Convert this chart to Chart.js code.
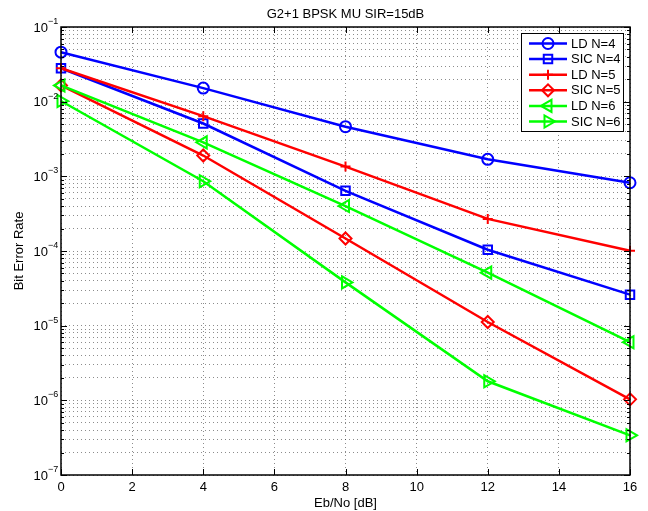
<!DOCTYPE html>
<html>
<head>
<meta charset="utf-8">
<script src="https://cdn.jsdelivr.net/npm/chart.js@4.4.1/dist/chart.umd.min.js"></script>
<style>
  html, body { margin: 0; padding: 0; background: #fff; }
</style>
</head>
<body>
<canvas id="ber-chart" width="648" height="511"></canvas>
<script>
const ebNo = [0, 4, 8, 12, 16];

const ldN4 = [4.6e-2, 1.52e-2, 4.62e-3, 1.69e-3, 8.2e-4];
const sicN4 = [2.8e-2, 5.1e-3, 6.4e-4, 1.04e-4, 2.6e-5];
const ldN5 = [2.8e-2, 6.4e-3, 1.35e-3, 2.69e-4, 1.01e-4];
const sicN5 = [1.65e-2, 1.9e-3, 1.47e-4, 1.12e-5, 1.03e-6];
const ldN6 = [1.65e-2, 2.85e-3, 4.0e-4, 5.13e-5, 6.0e-6];
const sicN6 = [1.02e-2, 8.6e-4, 3.8e-5, 1.8e-6, 3.4e-7];

const seriesNames = ['LD N=4', 'SIC N=4', 'LD N=5', 'SIC N=5', 'LD N=6', 'SIC N=6'];
const xTickValues = [0, 2, 4, 6, 8, 10, 12, 14, 16];
const yExponents = [-7, -6, -5, -4, -3, -2, -1];
const yMantissas = [1, 2, 3, 4, 5, 6, 7, 8, 9];

const FONT = 'Liberation Sans, Arial, Helvetica, sans-serif';
const BLUE = '#0000ff';
const RED = '#ff0000';
const GREEN = '#00ff00';
const GRID = 'rgba(0, 0, 0, 0.45)';

const styles = [
  { color: BLUE, pointStyle: 'circle', radius: 5.5, rotation: 0 },
  { color: BLUE, pointStyle: 'rect', radius: 6, rotation: 0 },
  { color: RED, pointStyle: 'cross', radius: 5, rotation: 0 },
  { color: RED, pointStyle: 'rectRot', radius: 6, rotation: 0 },
  { color: GREEN, pointStyle: 'triangle', radius: 7, rotation: 270 },
  { color: GREEN, pointStyle: 'triangle', radius: 7, rotation: 90 },
];

const allSeries = [ldN4, sicN4, ldN5, sicN5, ldN6, sicN6];

const datasets = allSeries.map((values, i) => ({
  label: seriesNames[i],
  data: values.map((v, j) => ({ x: ebNo[j], y: v })),
  borderColor: styles[i].color,
  borderWidth: 2.5,
  backgroundColor: 'transparent',
  pointStyle: styles[i].pointStyle,
  pointRadius: styles[i].radius,
  pointRotation: styles[i].rotation,
  pointBorderColor: styles[i].color,
  pointBackgroundColor: 'transparent',
  pointBorderWidth: 2,
  tension: 0,
  clip: false,
  order: allSeries.length - 1 - i,
}));

// log ticks: 1..9 x 10^n, majors at the decades
const logTicks = [];
yExponents.forEach((e) => {
  yMantissas.forEach((m) => {
    if (e === -1 && m > 1) return;
    logTicks.push({ value: m * Math.pow(10, e), major: m === 1 });
  });
});

// frame, inward ticks, y labels with exponents, title, legend
const matlabAxes = {
  id: 'matlabAxes',
  afterDraw(chart) {
    const { ctx, chartArea: a } = chart;
    const xs = chart.scales.x;
    const ys = chart.scales.y;
    ctx.save();

    ctx.strokeStyle = '#000';
    ctx.lineWidth = 1.5;
    ctx.strokeRect(a.left, a.top, a.right - a.left, a.bottom - a.top);

    ctx.lineWidth = 1;
    ctx.beginPath();
    xTickValues.forEach((v) => {
      const px = Math.round(xs.getPixelForValue(v)) + 0.5;
      ctx.moveTo(px, a.bottom); ctx.lineTo(px, a.bottom - 6);
      ctx.moveTo(px, a.top); ctx.lineTo(px, a.top + 6);
    });
    logTicks.forEach((t) => {
      const py = Math.round(ys.getPixelForValue(t.value)) + 0.5;
      const len = t.major ? 6 : 3;
      ctx.moveTo(a.left, py); ctx.lineTo(a.left + len, py);
      ctx.moveTo(a.right, py); ctx.lineTo(a.right - len, py);
    });
    ctx.stroke();

    // y tick labels 10^n
    ctx.fillStyle = '#000';
    yExponents.forEach((e) => {
      const py = ys.getPixelForValue(Math.pow(10, e));
      ctx.font = '13px ' + FONT;
      ctx.textAlign = 'right';
      ctx.textBaseline = 'middle';
      ctx.fillText('10', 48, py + 1);
      ctx.font = '9px ' + FONT;
      ctx.textAlign = 'left';
      ctx.textBaseline = 'alphabetic';
      ctx.fillText('\u2212' + Math.abs(e), 48, py - 3);
    });

    // title
    ctx.font = '13px ' + FONT;
    ctx.textAlign = 'center';
    ctx.textBaseline = 'middle';
    ctx.fillText('G2+1 BPSK MU SIR=15dB', (a.left + a.right) / 2, 14);

    // legend
    const lx = 521, ly = 33, lw = 102, lh = 98;
    ctx.fillStyle = '#fff';
    ctx.fillRect(lx, ly, lw, lh);
    ctx.strokeStyle = '#000';
    ctx.lineWidth = 1;
    ctx.strokeRect(lx + 0.5, ly + 0.5, lw, lh);
    chart.data.datasets.forEach((ds, i) => {
      const cy = ly + 10.5 + i * 15.6;
      ctx.strokeStyle = ds.borderColor;
      ctx.lineWidth = 2.5;
      ctx.beginPath();
      ctx.moveTo(lx + 8, cy);
      ctx.lineTo(lx + 46, cy);
      ctx.stroke();
      ctx.fillStyle = 'rgba(0, 0, 0, 0)';
      ctx.lineWidth = 2;
      Chart.helpers.drawPoint(ctx, {
        pointStyle: ds.pointStyle,
        rotation: ds.pointRotation,
        radius: ds.pointRadius,
        borderWidth: 2,
      }, lx + 27, cy);
      ctx.fillStyle = '#000';
      ctx.font = '13px ' + FONT;
      ctx.textAlign = 'left';
      ctx.textBaseline = 'middle';
      ctx.fillText(ds.label, lx + 50, cy + 0.5);
    });

    ctx.restore();
  }
};

const canvas = document.getElementById('ber-chart');
const chart = new Chart(canvas, {
  type: 'line',
  data: { datasets },
  options: {
    responsive: false,
    animation: false,
    devicePixelRatio: 1,
    layout: { padding: { top: 27, right: 18, left: 0, bottom: 0 } },
    plugins: {
      legend: { display: false },
      tooltip: { enabled: false },
      title: { display: false },
    },
    scales: {
      x: {
        type: 'linear',
        min: 0,
        max: 16,
        afterBuildTicks: (scale) => {
          scale.ticks = xTickValues.map((v) => ({ value: v }));
        },
        afterFit: (scale) => { scale.height = 36; },
        ticks: {
          color: '#000',
          font: { family: FONT, size: 13 },
          padding: 5,
          maxRotation: 0,
          autoSkip: false,
        },
        grid: { color: GRID, lineWidth: 1, drawTicks: false },
        border: { display: false, dash: [1, 3] },
        title: {
          display: true,
          text: 'Eb/No [dB]',
          color: '#000',
          font: { family: FONT, size: 13 },
          padding: { top: 0, bottom: 0 },
        },
      },
      y: {
        type: 'logarithmic',
        min: 1e-7,
        max: 1e-1,
        afterBuildTicks: (scale) => {
          scale.ticks = logTicks.map((t) => ({ value: t.value, major: t.major }));
        },
        afterFit: (scale) => { scale.width = 61; },
        ticks: {
          autoSkip: false,
          callback: () => '',
        },
        grid: { color: GRID, lineWidth: 1, drawTicks: false },
        border: { display: false, dash: [1, 3] },
        title: {
          display: true,
          text: 'Bit Error Rate',
          color: '#000',
          font: { family: FONT, size: 13 },
          padding: { top: 12, bottom: 0 },
        },
      },
    },
  },
  plugins: [matlabAxes],
});
</script>
</body>
</html>
